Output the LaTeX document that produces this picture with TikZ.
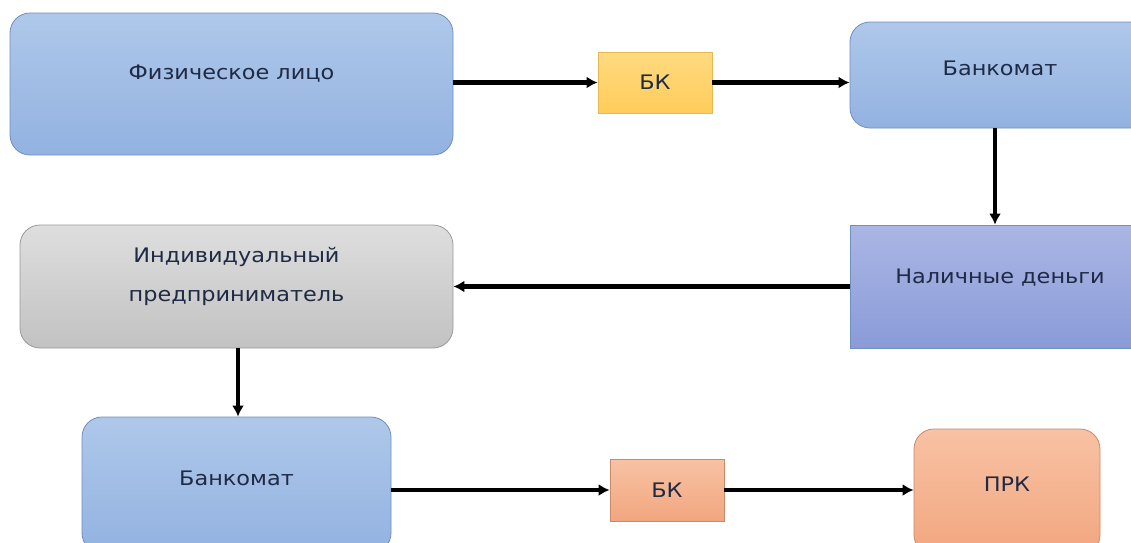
\documentclass[tikz,border=0pt]{standalone}
\usepackage{fontspec}
\setmainfont{DejaVu Sans}[FakeStretch=1.12]
\usetikzlibrary{arrows.meta}
\definecolor{txt}{HTML}{1F2A44}
\definecolor{bluetop}{HTML}{AFC8EA}
\definecolor{bluebot}{HTML}{92B2E0}
\definecolor{blueline}{HTML}{6F8FBF}
\definecolor{cashtop}{HTML}{AAB6E4}
\definecolor{cashbot}{HTML}{8A9BD8}
\definecolor{graytop}{HTML}{DEDEDE}
\definecolor{graybot}{HTML}{C2C2C2}
\definecolor{grayline}{HTML}{9A9A9A}
\definecolor{yeltop}{HTML}{FFDA80}
\definecolor{yelbot}{HTML}{FFCC5A}
\definecolor{yelline}{HTML}{E8B850}
\definecolor{ortop}{HTML}{F8C2A4}
\definecolor{orbot}{HTML}{F2A67F}
\definecolor{orline}{HTML}{C98A6A}
\tikzset{
  box/.style={draw, line width=0.8pt, font=\fontsize{20}{39}\selectfont, text=txt, align=center, inner sep=0pt},
  bluebox/.style={box, rounded corners=20pt, draw=blueline, top color=bluetop, bottom color=bluebot},
  cashbox/.style={box, draw=blueline, top color=cashtop, bottom color=cashbot},
  graybox/.style={box, rounded corners=20pt, draw=grayline, top color=graytop, bottom color=graybot},
  yelbox/.style={box, draw=yelline, top color=yeltop, bottom color=yelbot},
  orbox/.style={box, draw=orline, top color=ortop, bottom color=orbot},
  orround/.style={orbox, rounded corners=20pt},
  flow/.style={line width=4.5pt, -{Latex[length=11pt,width=12pt]}, black}
}
\begin{document}
\begin{tikzpicture}[x=1pt,y=-1pt]
\useasboundingbox (0,0) rectangle (1131,542);
\fill[white] (0,0) rectangle (1131,542);
\clip (0,0) rectangle (1131,542);
\node[bluebox, minimum width=443pt, minimum height=142pt, text depth=24pt] (fiz) at (231.5,84) {Физическое лицо};
\node[yelbox, minimum width=114pt, minimum height=61pt] (bk1) at (655,82.5) {БК};
\node[bluebox, minimum width=300pt, minimum height=106pt, text depth=14pt] (atm1) at (1000,75) {Банкомат};
\node[cashbox, minimum width=300pt, minimum height=123pt, text depth=20pt] (cash) at (1000,286.5) {Наличные деньги};
\node[graybox, minimum width=433pt, minimum height=123pt, text depth=24pt] (ip) at (236.5,286.5) {Индивидуальный\\предприниматель};
\node[bluebox, minimum width=309pt, minimum height=136pt, text depth=14pt] (atm2) at (236.5,485) {Банкомат};
\node[orbox, minimum width=114pt, minimum height=62pt] (bk2) at (667,490) {БК};
\node[orround, minimum width=186pt, minimum height=126pt, text depth=16pt] (prk) at (1007,492) {ПРК};
\draw[flow] (fiz.east |- bk1.west) -- (bk1.west);
\draw[flow] (bk1.east) -- (bk1.east -| atm1.west);
\draw[flow] (atm1.south -| 995,0) -- (cash.north -| 995,0);
\draw[flow] (cash.west) -- (ip.east);
\draw[flow] (ip.south -| 238,0) -- (atm2.north -| 238,0);
\draw[flow] (atm2.east |- bk2.west) -- (bk2.west);
\draw[flow] (bk2.east) -- (bk2.east -| prk.west);
\end{tikzpicture}
\end{document}
